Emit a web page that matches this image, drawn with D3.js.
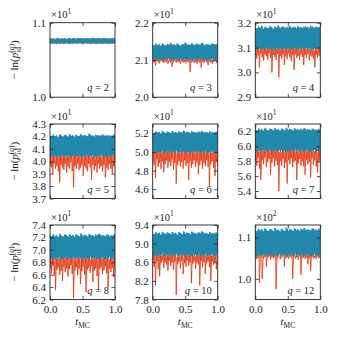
<!DOCTYPE html>
<html>
<head>
<meta charset="utf-8">
<script src="https://cdn.jsdelivr.net/npm/d3@7"></script>
<style>
  body { margin: 0; background: #fff; }
  text { font-family: "Liberation Serif", "DejaVu Serif", serif; fill: #222; }
</style>
</head>
<body>
<svg id="chart" width="338" height="340"></svg>
<script>
// values, in the units shown on each axis (before the x10^n factor)
const qValues = [2, 3, 4, 5, 6, 7, 8, 10, 12];
const exponents = [1, 1, 1, 1, 1, 1, 1, 1, 2];
const yLimits = [[1.0, 1.1], [2.0, 2.2], [2.9, 3.2], [3.7, 4.3], [4.5, 5.3], [5.3, 6.3], [6.2, 7.4], [7.8, 9.4], [0.95, 1.13]];
const yTicks = [
  [1.0, 1.1], [2.0, 2.1, 2.2], [2.9, 3.0, 3.1, 3.2],
  [3.7, 3.8, 3.9, 4.0, 4.1, 4.2, 4.3], [4.6, 4.8, 5.0, 5.2], [5.4, 5.6, 5.8, 6.0, 6.2],
  [6.2, 6.4, 6.6, 6.8, 7.0, 7.2, 7.4], [7.8, 8.2, 8.6, 9.0, 9.4], [1.0, 1.1]
];
const xTicks = [0, 0.5, 1.0];

// blue series: upper / lower edge of the noisy band
const q2Hi = [1.079,1.0785,1.0792,1.078,1.0788,1.0795,1.0782,1.079,1.0786,1.0793,1.0781,1.0789,1.0796,1.0784,1.079,1.0787,1.0783,1.0791,1.0788,1.0794,1.0782,1.079,1.0786,1.0792,1.0785,1.0789,1.0797,1.0783,1.079,1.0787,1.0792,1.0784,1.0789,1.0795,1.0786,1.0791,1.0783,1.0788,1.0793,1.0786];
const q2Lo = [1.0728,1.0722,1.0731,1.0725,1.0719,1.0729,1.0724,1.0732,1.0721,1.0727,1.0733,1.0723,1.0718,1.0728,1.0725,1.073,1.0722,1.0727,1.0731,1.0724,1.072,1.0729,1.0726,1.0723,1.0732,1.0721,1.0727,1.0725,1.0719,1.073,1.0724,1.0728,1.0722,1.0731,1.0726,1.072,1.0729,1.0723,1.0727,1.0725];
const q3Hi = [2.141,2.138,2.144,2.139,2.142,2.137,2.145,2.14,2.138,2.143,2.141,2.146,2.139,2.142,2.138,2.144,2.14,2.137,2.143,2.141,2.147,2.139,2.142,2.14,2.145,2.138,2.141,2.144,2.139,2.142,2.146,2.14,2.138,2.143,2.141,2.139,2.144,2.142,2.14,2.143];
const q3Lo = [2.103,2.1,2.105,2.099,2.102,2.104,2.098,2.103,2.101,2.106,2.1,2.102,2.099,2.104,2.101,2.103,2.098,2.105,2.1,2.102,2.104,2.099,2.103,2.101,2.097,2.104,2.102,2.1,2.105,2.099,2.103,2.101,2.104,2.098,2.102,2.1,2.105,2.099,2.103,2.101];
const q4Hi = [3.182,3.176,3.185,3.179,3.188,3.174,3.183,3.18,3.177,3.186,3.181,3.175,3.184,3.179,3.189,3.177,3.182,3.185,3.176,3.183,3.18,3.187,3.178,3.181,3.184,3.175,3.186,3.179,3.182,3.177,3.185,3.18,3.183,3.176,3.188,3.181,3.178,3.184,3.18,3.183];
const q4Lo = [3.098,3.092,3.101,3.095,3.089,3.099,3.094,3.103,3.091,3.097,3.1,3.093,3.088,3.098,3.095,3.102,3.09,3.096,3.099,3.093,3.101,3.094,3.089,3.098,3.096,3.1,3.092,3.097,3.103,3.091,3.095,3.099,3.093,3.1,3.096,3.09,3.098,3.094,3.101,3.097];
const q5Hi = [4.205,4.195,4.215,4.2,4.21,4.192,4.218,4.203,4.198,4.212,4.207,4.196,4.22,4.202,4.209,4.194,4.214,4.2,4.206,4.217,4.197,4.211,4.204,4.199,4.222,4.201,4.208,4.195,4.213,4.203,4.21,4.198,4.216,4.205,4.2,4.212,4.196,4.208,4.203,4.214];
const q5Lo = [4.045,4.035,4.055,4.04,4.03,4.05,4.042,4.06,4.033,4.048,4.038,4.053,4.028,4.046,4.04,4.057,4.036,4.05,4.044,4.032,4.052,4.041,4.058,4.034,4.047,4.039,4.055,4.03,4.049,4.043,4.036,4.054,4.04,4.046,4.031,4.051,4.044,4.038,4.056,4.042];
const q6Hi = [5.21,5.198,5.222,5.205,5.215,5.195,5.228,5.208,5.2,5.218,5.212,5.197,5.225,5.204,5.214,5.199,5.22,5.206,5.211,5.23,5.201,5.216,5.208,5.196,5.223,5.205,5.213,5.2,5.219,5.207,5.226,5.198,5.215,5.209,5.202,5.221,5.197,5.212,5.206,5.218];
const q6Lo = [5.0,4.99,5.012,4.985,5.005,4.995,5.018,4.982,5.008,4.998,5.015,4.988,5.003,4.993,5.02,4.986,5.007,4.997,5.013,4.984,5.01,4.996,5.004,4.989,5.016,4.992,5.006,4.999,5.011,4.983,5.009,4.994,5.017,4.987,5.002,4.991,5.014,4.985,5.008,4.998];
const q7Hi = [6.225,6.21,6.24,6.215,6.232,6.205,6.248,6.22,6.212,6.236,6.228,6.208,6.244,6.218,6.23,6.203,6.238,6.222,6.214,6.25,6.209,6.234,6.224,6.206,6.242,6.217,6.229,6.211,6.237,6.221,6.246,6.207,6.233,6.219,6.213,6.24,6.204,6.227,6.216,6.235];
const q7Lo = [5.945,5.93,5.96,5.925,5.95,5.938,5.968,5.92,5.955,5.94,5.962,5.928,5.948,5.935,5.97,5.922,5.952,5.942,5.958,5.918,5.956,5.936,5.946,5.926,5.965,5.932,5.95,5.94,5.96,5.915,5.953,5.937,5.963,5.924,5.947,5.933,5.966,5.921,5.954,5.943];
const q8Hi = [7.23,7.21,7.25,7.215,7.24,7.2,7.26,7.225,7.212,7.245,7.235,7.205,7.255,7.22,7.238,7.198,7.25,7.228,7.21,7.265,7.204,7.242,7.23,7.202,7.258,7.218,7.236,7.208,7.248,7.226,7.262,7.206,7.24,7.222,7.214,7.252,7.2,7.234,7.216,7.246];
const q8Lo = [6.87,6.85,6.89,6.84,6.875,6.86,6.9,6.835,6.88,6.855,6.895,6.845,6.872,6.852,6.905,6.838,6.878,6.862,6.892,6.83,6.885,6.858,6.87,6.842,6.898,6.85,6.876,6.864,6.888,6.828,6.882,6.856,6.894,6.84,6.874,6.852,6.9,6.836,6.88,6.866];
const q10Hi = [9.22,9.195,9.245,9.205,9.235,9.185,9.255,9.215,9.2,9.24,9.228,9.19,9.25,9.21,9.232,9.18,9.248,9.218,9.198,9.262,9.188,9.238,9.222,9.192,9.258,9.208,9.23,9.196,9.244,9.216,9.265,9.19,9.236,9.212,9.202,9.252,9.184,9.226,9.206,9.242];
const q10Lo = [8.76,8.73,8.78,8.72,8.765,8.745,8.8,8.715,8.77,8.74,8.79,8.725,8.762,8.735,8.805,8.71,8.772,8.748,8.785,8.705,8.776,8.738,8.758,8.722,8.795,8.73,8.768,8.75,8.782,8.712,8.774,8.742,8.79,8.72,8.764,8.734,8.8,8.716,8.77,8.752];
const q12Hi = [1.118,1.115,1.121,1.116,1.12,1.114,1.122,1.117,1.115,1.12,1.119,1.114,1.123,1.116,1.119,1.113,1.121,1.117,1.115,1.124,1.114,1.12,1.118,1.115,1.122,1.116,1.119,1.114,1.121,1.117,1.123,1.115,1.12,1.116,1.118,1.122,1.114,1.119,1.116,1.121];
const q12Lo = [1.058,1.055,1.061,1.054,1.059,1.057,1.063,1.053,1.06,1.056,1.062,1.054,1.058,1.055,1.064,1.052,1.059,1.057,1.061,1.053,1.06,1.056,1.058,1.054,1.063,1.055,1.059,1.057,1.061,1.052,1.06,1.056,1.062,1.054,1.058,1.055,1.063,1.053,1.059,1.057];

// red series: low points of the spikes
const q2Red = [1.0722,1.0718,1.0724,1.0716,1.0723,1.072,1.0725,1.0717,1.0722,1.0721,1.0714,1.0724,1.0719,1.0723,1.0716,1.0725,1.072,1.0722,1.0718,1.0724,1.0715,1.0721,1.0723,1.0719,1.0712,1.0722,1.0725,1.0718,1.0721,1.0716,1.0724,1.072,1.0723,1.0717,1.0722,1.0719,1.0725,1.0714,1.0721,1.0723,1.0718,1.0722,1.0716,1.0724,1.072,1.0719,1.0723,1.0721];
const q3Red = [2.096,2.093,2.085,2.097,2.094,2.091,2.098,2.095,2.092,2.096,2.094,2.09,2.097,2.093,2.082,2.095,2.098,2.092,2.096,2.094,2.089,2.097,2.093,2.095,2.091,2.096,2.094,2.068,2.093,2.097,2.092,2.095,2.09,2.096,2.093,2.08,2.095,2.092,2.097,2.094,2.086,2.096,2.093,2.09,2.095,2.097,2.092,2.094];
const q4Red = [3.07,3.055,3.068,3.02,3.075,3.06,3.048,3.072,3.065,3.052,3.078,3.058,3.0,3.07,3.062,3.05,3.074,2.98,3.066,3.056,3.071,3.03,3.064,3.053,3.076,3.06,3.045,3.069,3.01,3.073,3.058,3.066,3.05,3.072,3.062,3.03,3.07,3.057,3.074,3.048,3.068,3.063,3.055,3.02,3.071,3.06,3.067,3.052];
const q5Red = [3.97,3.95,3.9,3.98,3.94,3.96,3.92,3.83,3.97,3.95,3.93,3.98,3.91,3.96,3.94,3.99,3.92,3.79,3.96,3.94,3.98,3.93,3.95,3.97,3.88,3.96,3.94,3.92,3.98,3.95,3.85,3.97,3.93,3.96,3.91,3.98,3.94,3.96,3.92,3.97,3.87,3.95,3.93,3.98,3.94,3.9,3.96,3.95];
const q6Red = [4.9,4.86,4.72,4.92,4.84,4.88,4.82,4.9,4.78,4.87,4.91,4.83,4.89,4.85,4.92,4.81,4.88,4.66,4.86,4.9,4.84,4.89,4.82,4.91,4.85,4.88,4.7,4.9,4.83,4.87,4.91,4.84,4.89,4.76,4.86,4.9,4.82,4.88,4.85,4.91,4.84,4.63,4.87,4.9,4.83,4.74,4.89,4.86];
const q7Red = [5.8,5.74,5.84,5.7,5.55,5.82,5.76,5.85,5.72,5.79,5.83,5.62,5.78,5.84,5.73,5.81,5.75,5.4,5.8,5.74,5.83,5.71,5.78,5.5,5.82,5.76,5.84,5.72,5.79,5.81,5.55,5.77,5.83,5.74,5.8,5.73,5.62,5.82,5.76,5.79,5.58,5.84,5.75,5.81,5.73,5.65,5.8,5.77];
const q8Red = [6.7,6.62,6.74,6.58,6.35,6.68,6.72,6.6,6.66,6.5,6.73,6.64,6.7,6.57,6.69,6.75,6.61,6.22,6.67,6.72,6.59,6.7,6.45,6.65,6.73,6.6,6.32,6.68,6.71,6.63,6.74,6.48,6.66,6.7,6.58,6.35,6.69,6.72,6.61,6.67,6.73,6.62,6.4,6.7,6.64,6.71,6.56,6.68];
const q10Red = [8.6,8.5,8.1,8.62,8.45,8.3,8.58,8.64,8.48,8.6,8.55,8.42,8.63,8.52,8.59,8.44,8.62,7.9,8.56,8.61,8.47,8.63,8.35,8.58,8.5,8.64,8.53,8.6,8.15,8.57,8.62,8.46,8.59,8.55,8.1,8.63,8.49,8.6,8.35,8.58,8.62,8.5,8.2,8.61,8.54,8.59,8.45,8.63];
const q12Red = [1.052,1.048,1.05,0.99,1.054,1.0,1.049,1.053,1.03,1.05,1.055,1.046,1.052,1.049,1.054,0.975,1.05,1.053,1.047,1.051,1.054,1.03,1.05,1.052,1.048,1.054,1.051,1.0,1.053,1.049,1.052,1.046,1.054,1.01,1.05,1.053,1.048,1.052,1.035,1.05,1.02,1.053,1.049,1.051,1.047,1.054,1.05,1.052];

const blueHi = [q2Hi, q3Hi, q4Hi, q5Hi, q6Hi, q7Hi, q8Hi, q10Hi, q12Hi];
const blueLo = [q2Lo, q3Lo, q4Lo, q5Lo, q6Lo, q7Lo, q8Lo, q10Lo, q12Lo];
const redLow = [q2Red, q3Red, q4Red, q5Red, q6Red, q7Red, q8Red, q10Red, q12Red];

const blue = "#2389ad";
const red = "#e5300a";

const svg = d3.select("#chart");
const colLeft = [50, 152.7, 255.3];
const rowTop = [22.7, 124, 225];
const pw = 65, ph = 74.5;

const line = d3.line().x(d => d[0]).y(d => d[1]);

qValues.forEach((q, k) => {
  const row = Math.floor(k / 3), col = k % 3;
  const left = colLeft[col], top = rowTop[row];
  const x = d3.scaleLinear().domain([0, 1]).range([left, left + pw]);
  const y = d3.scaleLinear().domain(yLimits[k]).range([top + ph, top]);

  const g = svg.append("g");
  const clipId = "clip" + k;
  g.append("clipPath").attr("id", clipId)
    .append("rect").attr("x", left).attr("y", top).attr("width", pw).attr("height", ph);
  const plot = g.append("g").attr("clip-path", `url(#${clipId})`);

  const hi = blueHi[k], lo = blueLo[k], rl = redLow[k];
  const n = hi.length;

  // red spikes: thin zigzag from the lower edge of the band down to each low point
  const redPts = [];
  rl.forEach((v, i) => {
    const t = i / (rl.length - 1);
    const j = Math.min(n - 1, Math.floor(i * n / rl.length));
    redPts.push([x(Math.max(0, t - 0.007)), y(lo[j])]);
    redPts.push([x(t), y(v)]);
  });
  plot.append("path").attr("d", line(redPts))
    .attr("fill", "none").attr("stroke", red).attr("stroke-width", 0.8)
    .attr("stroke-linejoin", "bevel");

  // blue band: filled between edges, with a zigzag for the ragged outline
  const band = d3.area()
    .x((d, i) => x(i / (n - 1)))
    .y0((d, i) => y(lo[i]))
    .y1(d => y(d));
  plot.append("path").attr("d", band(hi)).attr("fill", blue);

  const bluePts = [];
  hi.forEach((v, i) => {
    bluePts.push([x(i / n), y(v)]);
    bluePts.push([x((i + 0.5) / n), y(lo[i])]);
  });
  bluePts.push([x(1), y(hi[n - 1])]);
  plot.append("path").attr("d", line(bluePts))
    .attr("fill", "none").attr("stroke", blue).attr("stroke-width", 0.9);

  // axes with inward ticks on all four sides
  const fmt = d3.format(".1f");
  g.append("g").attr("transform", `translate(${left},0)`)
    .call(d3.axisLeft(y).tickValues(yTicks[k]).tickSize(-3.5).tickPadding(4).tickFormat(fmt));
  g.append("g").attr("transform", `translate(${left + pw},0)`)
    .call(d3.axisRight(y).tickValues(yTicks[k]).tickSize(-3.5).tickFormat(""));
  g.append("g").attr("transform", `translate(0,${top + ph})`)
    .call(d3.axisBottom(x).tickValues(xTicks).tickSize(-3.5).tickPadding(6)
      .tickFormat(row === 2 ? fmt : ""));
  g.append("g").attr("transform", `translate(0,${top})`)
    .call(d3.axisTop(x).tickValues(xTicks).tickSize(-3.5).tickFormat(""));
  g.selectAll(".domain").remove();
  g.selectAll(".tick line").attr("stroke", "#222").attr("stroke-width", 0.8);
  g.selectAll(".tick text").attr("font-size", 11).attr("font-family", "Liberation Serif, serif").attr("fill", "#333");

  g.append("rect").attr("x", left).attr("y", top).attr("width", pw).attr("height", ph)
    .attr("fill", "none").attr("stroke", "#222").attr("stroke-width", 0.9);

  // multiplier label
  const ex = g.append("text").attr("x", left + 1).attr("y", top - 4.5).attr("font-size", 10.5);
  ex.append("tspan").text("×10");
  ex.append("tspan").attr("font-size", 7.5).attr("dy", -4.5).text(exponents[k]);

  // q label
  const ql = g.append("text").attr("x", left + pw - 6).attr("y", top + ph - 6)
    .attr("text-anchor", "end").attr("font-size", 10.5);
  ql.append("tspan").attr("font-style", "italic").text("q");
  ql.append("tspan").text(" = " + q);
});

// y labels, one per row
rowTop.forEach(top => {
  const t = svg.append("text")
    .attr("transform", `translate(18,${top + ph / 2}) rotate(-90)`)
    .attr("text-anchor", "middle").attr("font-size", 11);
  t.append("tspan").text("− ln(");
  t.append("tspan").attr("font-style", "italic").text("p");
  const sub = t.append("tspan").attr("font-size", 7.5).attr("dy", 2.5).text("id");
  const w = sub.node().getComputedTextLength();
  t.append("tspan").attr("font-size", 7.5).attr("dx", -w).attr("dy", -7).text("(");
  t.append("tspan").attr("font-size", 7.5).attr("font-style", "italic").text("q");
  t.append("tspan").attr("font-size", 7.5).text(")");
  t.append("tspan").attr("dy", 4.5).text(")");
});

// x labels under the bottom row
colLeft.forEach(left => {
  const t = svg.append("text").attr("x", left + pw / 2).attr("y", 325)
    .attr("text-anchor", "middle").attr("font-size", 11);
  t.append("tspan").attr("font-style", "italic").text("t");
  t.append("tspan").attr("font-size", 7.5).attr("dy", 2.5).text("MC");
});
</script>
</body>
</html>
